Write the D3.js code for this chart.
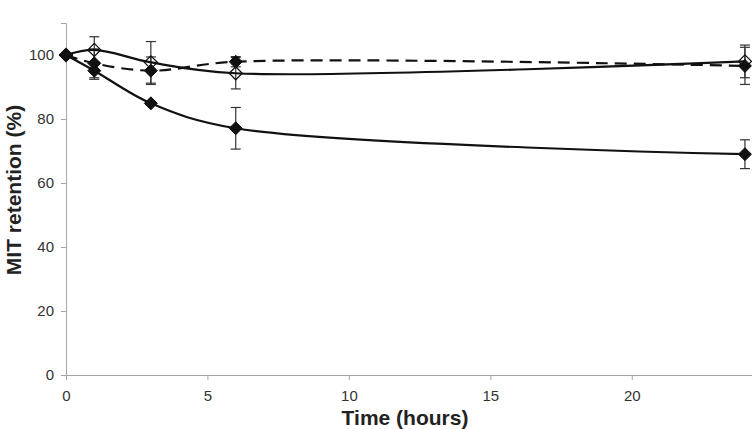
<!DOCTYPE html>
<html>
<head>
<meta charset="utf-8">
<script src="https://cdn.jsdelivr.net/npm/d3@7"></script>
<style>
  html, body { margin: 0; padding: 0; background: #fff; }
  svg { display: block; }
</style>
</head>
<body>
<svg id="chart" width="752" height="429"></svg>
<script>
// ---- data ----
const times = [0, 1, 3, 6, 24];
const xTicks = [0, 5, 10, 15, 20];
const yTicks = [0, 20, 40, 60, 80, 100];

// filled diamonds, solid line (lower curve)
const seriesA = [100, 95.1, 84.9, 77.1, 69.0];
const errA    = [0, 2.7, 0.6, 6.5, 4.5];
// open diamonds, solid line
const seriesB = [100, 101.6, 97.7, 94.3, 98.0];
const errB    = [0, 4.1, 6.5, 4.9, 5.1];
// filled diamonds, dashed line
const seriesC = [100, 97.4, 95.1, 97.9, 96.6];
const errC    = [0, 4.5, 4.3, 1.6, 5.8];

const xLabel = "Time (hours)";
const yLabel = "MIT retention (%)";

// ---- layout ----
const svg = d3.select("#chart");
const x = d3.scaleLinear().domain([0, 24.25]).range([66, 752]);
const y = d3.scaleLinear().domain([0, 110]).range([375, 23]);

const axisColor = "#a6a6a6";
const textColor = "#333";

// axes
const gx = svg.append("g").attr("transform", `translate(0,${y(0)})`)
  .call(d3.axisBottom(x).tickValues(xTicks).tickSize(5).tickPadding(10).tickFormat(d3.format("d")));
const gy = svg.append("g").attr("transform", `translate(${x(0)},0)`)
  .call(d3.axisLeft(y).tickValues(yTicks).tickSize(5).tickPadding(7).tickFormat(d3.format("d")));
[gx, gy].forEach(g => {
  g.select(".domain").attr("stroke", axisColor).attr("stroke-width", 1);
  g.selectAll(".tick line").attr("stroke", axisColor);
  g.selectAll(".tick text").attr("fill", textColor)
    .style("font-family", "'Liberation Sans', Arial, sans-serif").style("font-size", "15px");
});

svg.append("text")
  .attr("x", 405).attr("y", 425)
  .attr("text-anchor", "middle")
  .style("font-family", "'Liberation Sans', Arial, sans-serif")
  .style("font-size", "21px").style("font-weight", "bold").attr("fill", "#222")
  .text(xLabel);
svg.append("text")
  .attr("transform", `translate(21,${190}) rotate(-90)`)
  .attr("text-anchor", "middle")
  .style("font-family", "'Liberation Sans', Arial, sans-serif")
  .style("font-size", "21px").style("font-weight", "bold").attr("fill", "#222")
  .text(yLabel);

const series = [
  { vals: seriesA, err: errA, dash: null, open: false },
  { vals: seriesB, err: errB, dash: null, open: true },
  { vals: seriesC, err: errC, dash: "12,7", open: false }
];

const line = d3.line().x(d => x(d.t)).y(d => y(d.v)).curve(d3.curveCatmullRom.alpha(0.5));
const diamond = "M0,-6.5L6.5,0L0,6.5L-6.5,0Z";

// error bars
series.forEach(s => {
  const pts = times.map((t, i) => ({ t, v: s.vals[i], e: s.err[i] })).filter(p => p.e > 0);
  const g = svg.append("g").attr("stroke", "#333").attr("stroke-width", 1.2);
  g.selectAll("line.v").data(pts).join("line")
    .attr("x1", d => x(d.t)).attr("x2", d => x(d.t))
    .attr("y1", d => y(d.v - d.e)).attr("y2", d => y(d.v + d.e));
  g.selectAll("line.top").data(pts).join("line")
    .attr("x1", d => x(d.t) - 5).attr("x2", d => x(d.t) + 5)
    .attr("y1", d => y(d.v + d.e)).attr("y2", d => y(d.v + d.e));
  g.selectAll("line.bot").data(pts).join("line")
    .attr("x1", d => x(d.t) - 5).attr("x2", d => x(d.t) + 5)
    .attr("y1", d => y(d.v - d.e)).attr("y2", d => y(d.v - d.e));
});

// lines
series.forEach(s => {
  const pts = times.map((t, i) => ({ t, v: s.vals[i] }));
  svg.append("path").datum(pts)
    .attr("d", line).attr("fill", "none").attr("stroke", "#111")
    .attr("stroke-width", 2.2)
    .attr("stroke-dasharray", s.dash);
});

// markers
series.forEach(s => {
  const pts = times.map((t, i) => ({ t, v: s.vals[i] }));
  svg.append("g").selectAll("path").data(pts).join("path")
    .attr("transform", d => `translate(${x(d.t)},${y(d.v)})`)
    .attr("d", diamond)
    .attr("fill", s.open ? "none" : "#111")
    .attr("stroke", "#111").attr("stroke-width", s.open ? 1.3 : 1);
});
</script>
</body>
</html>
